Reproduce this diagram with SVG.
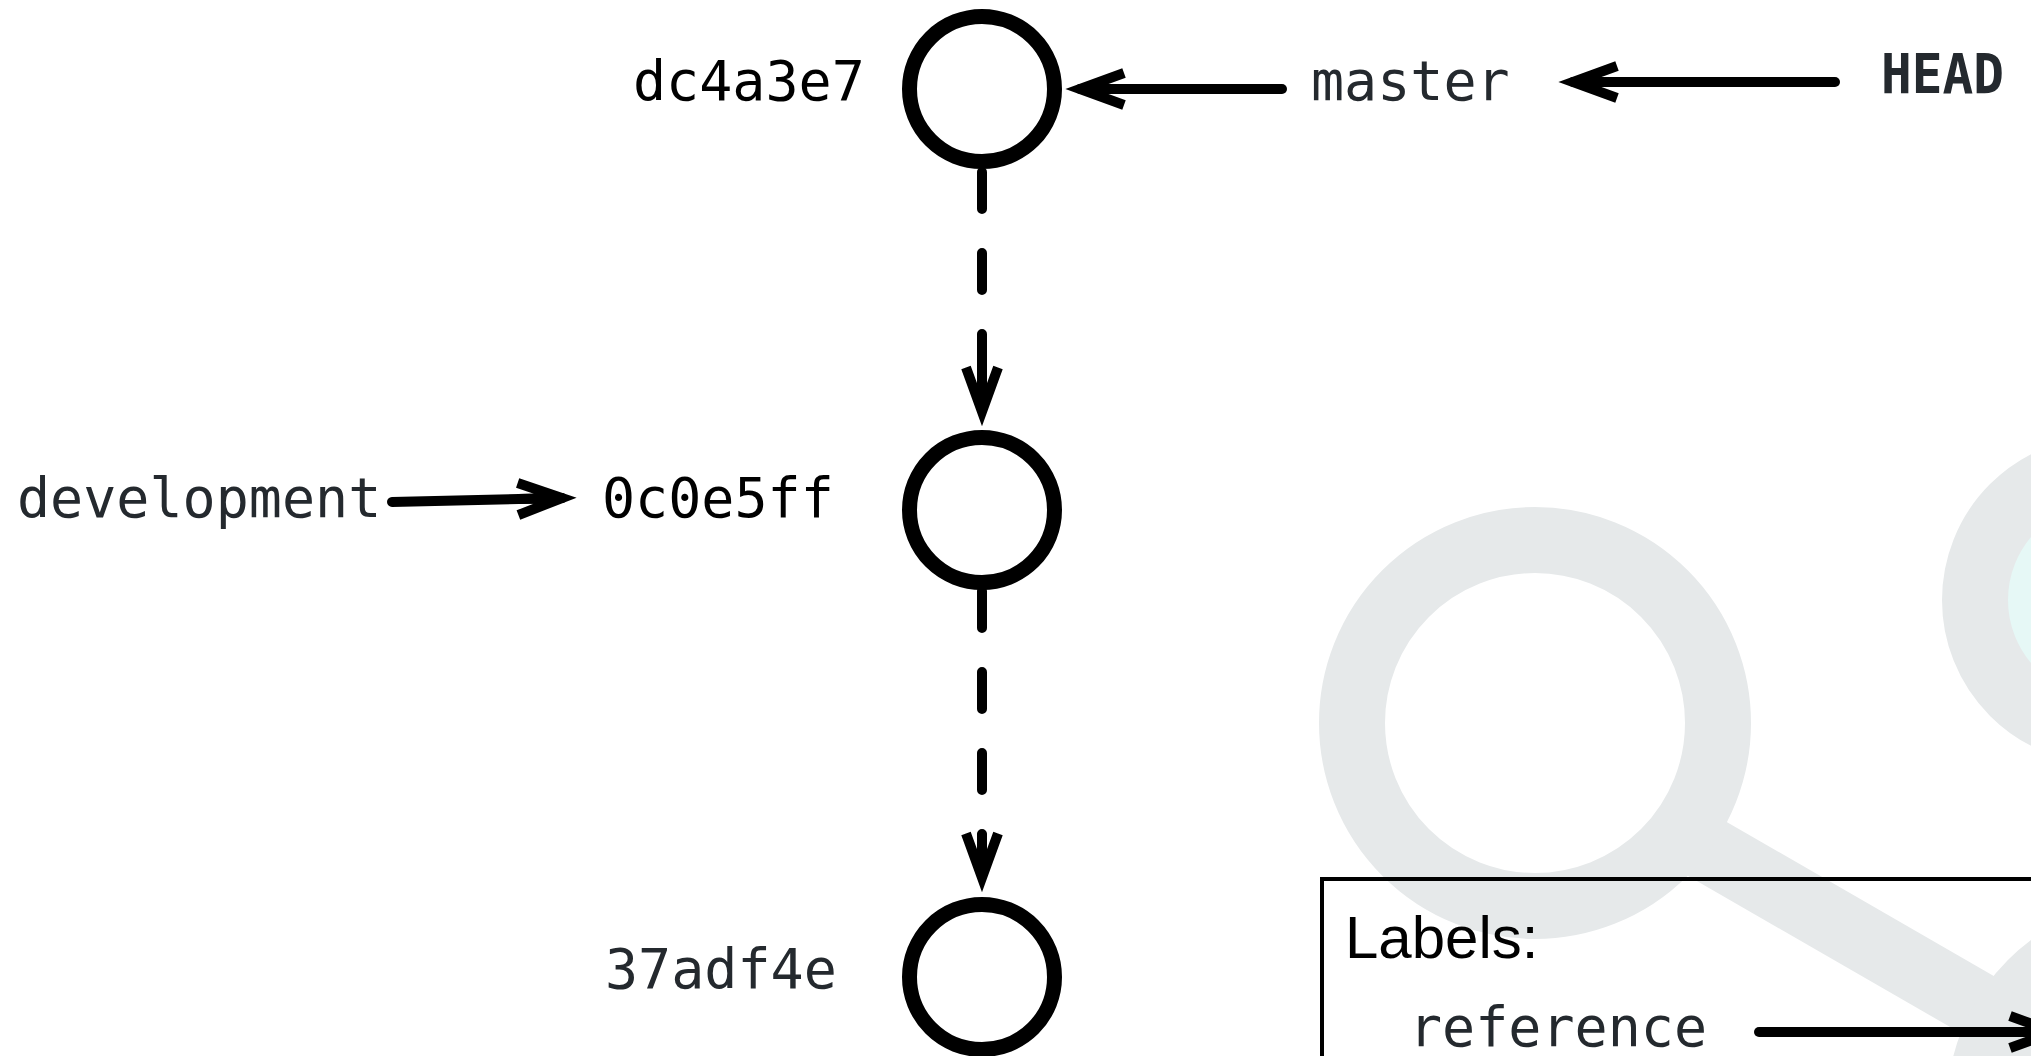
<svg xmlns="http://www.w3.org/2000/svg" width="2031" height="1056" viewBox="0 0 2031 1056">
<style>
.mono{font-family:"DejaVu Sans Mono","Liberation Mono",monospace;font-size:55px}
.dark{fill:#24292e}
.blk{fill:#000}
.commit{fill:#fff;stroke:#000;stroke-width:15}
.edge{fill:none;stroke:#000;stroke-width:10;stroke-linecap:round}
.dash{stroke-dasharray:37 44}
.wm{fill:none;stroke:#e6e9ea;stroke-width:66}
</style>
<defs>
<marker id="ah" markerUnits="userSpaceOnUse" viewBox="-70 -30 80 60" refX="0" refY="0" markerWidth="80" markerHeight="60" orient="auto" overflow="visible">
<path d="M-44 -16 L0 0 L-44 16 M-44 0 L0 0" fill="none" stroke="#000" stroke-width="10" stroke-linejoin="miter" stroke-linecap="butt" stroke-miterlimit="6"/>
</marker>
</defs>
<rect width="2031" height="1056" fill="#fff"/>
<g id="watermark">
<line class="wm" x1="1560" y1="764" x2="2155" y2="1107"/>
<circle class="wm" cx="2155" cy="1107" r="175" fill="#fff"/>
<circle class="wm" cx="1535" cy="723" r="183" style="fill:#fff"/>
<circle class="wm" cx="2106" cy="600" r="131" style="fill:#e6f8f6"/>
</g>
<g id="connectors">
<path class="edge" d="M1282 89 L1080 89" marker-end="url(#ah)"/>
<path class="edge" d="M1835 82 L1573 82" marker-end="url(#ah)"/>
<path class="edge" d="M392 502 L562 498" marker-end="url(#ah)"/>
<path class="edge dash" d="M982 172 L982 411.5" marker-end="url(#ah)"/>
<path class="edge dash" d="M982 591 L982 877.5" marker-end="url(#ah)"/>
</g>
<g id="node-dc4a3e7">
<circle class="commit" cx="982" cy="89" r="72.5"/>
<text class="mono blk" x="633" y="100">dc4a3e7</text>
</g>
<g id="node-0c0e5ff">
<circle class="commit" cx="982" cy="510" r="72.5"/>
<text class="mono blk" x="602" y="517">0c0e5ff</text>
</g>
<g id="node-37adf4e">
<circle class="commit" cx="982" cy="977" r="72.5"/>
<text class="mono dark" x="605" y="988">37adf4e</text>
</g>
<g id="ref-master">
<text class="mono dark" x="1311" y="100">master</text>
</g>
<g id="ref-HEAD">
<text class="mono dark" x="1881" y="93" font-size="51" font-weight="bold" textLength="123" lengthAdjust="spacingAndGlyphs">HEAD</text>
</g>
<g id="ref-development">
<text class="mono dark" x="17" y="517">development</text>
</g>
<g id="legend">
<rect x="1322" y="879" width="760" height="260" fill="none" stroke="#000" stroke-width="4"/>
<text x="1345" y="958" font-family="'Liberation Sans',Arial,sans-serif" font-size="60" fill="#000">Labels:</text>
<text class="mono dark" x="1409" y="1046">reference</text>
<path class="edge" d="M1759 1032 L2054 1032" marker-end="url(#ah)"/>
</g>
</svg>
